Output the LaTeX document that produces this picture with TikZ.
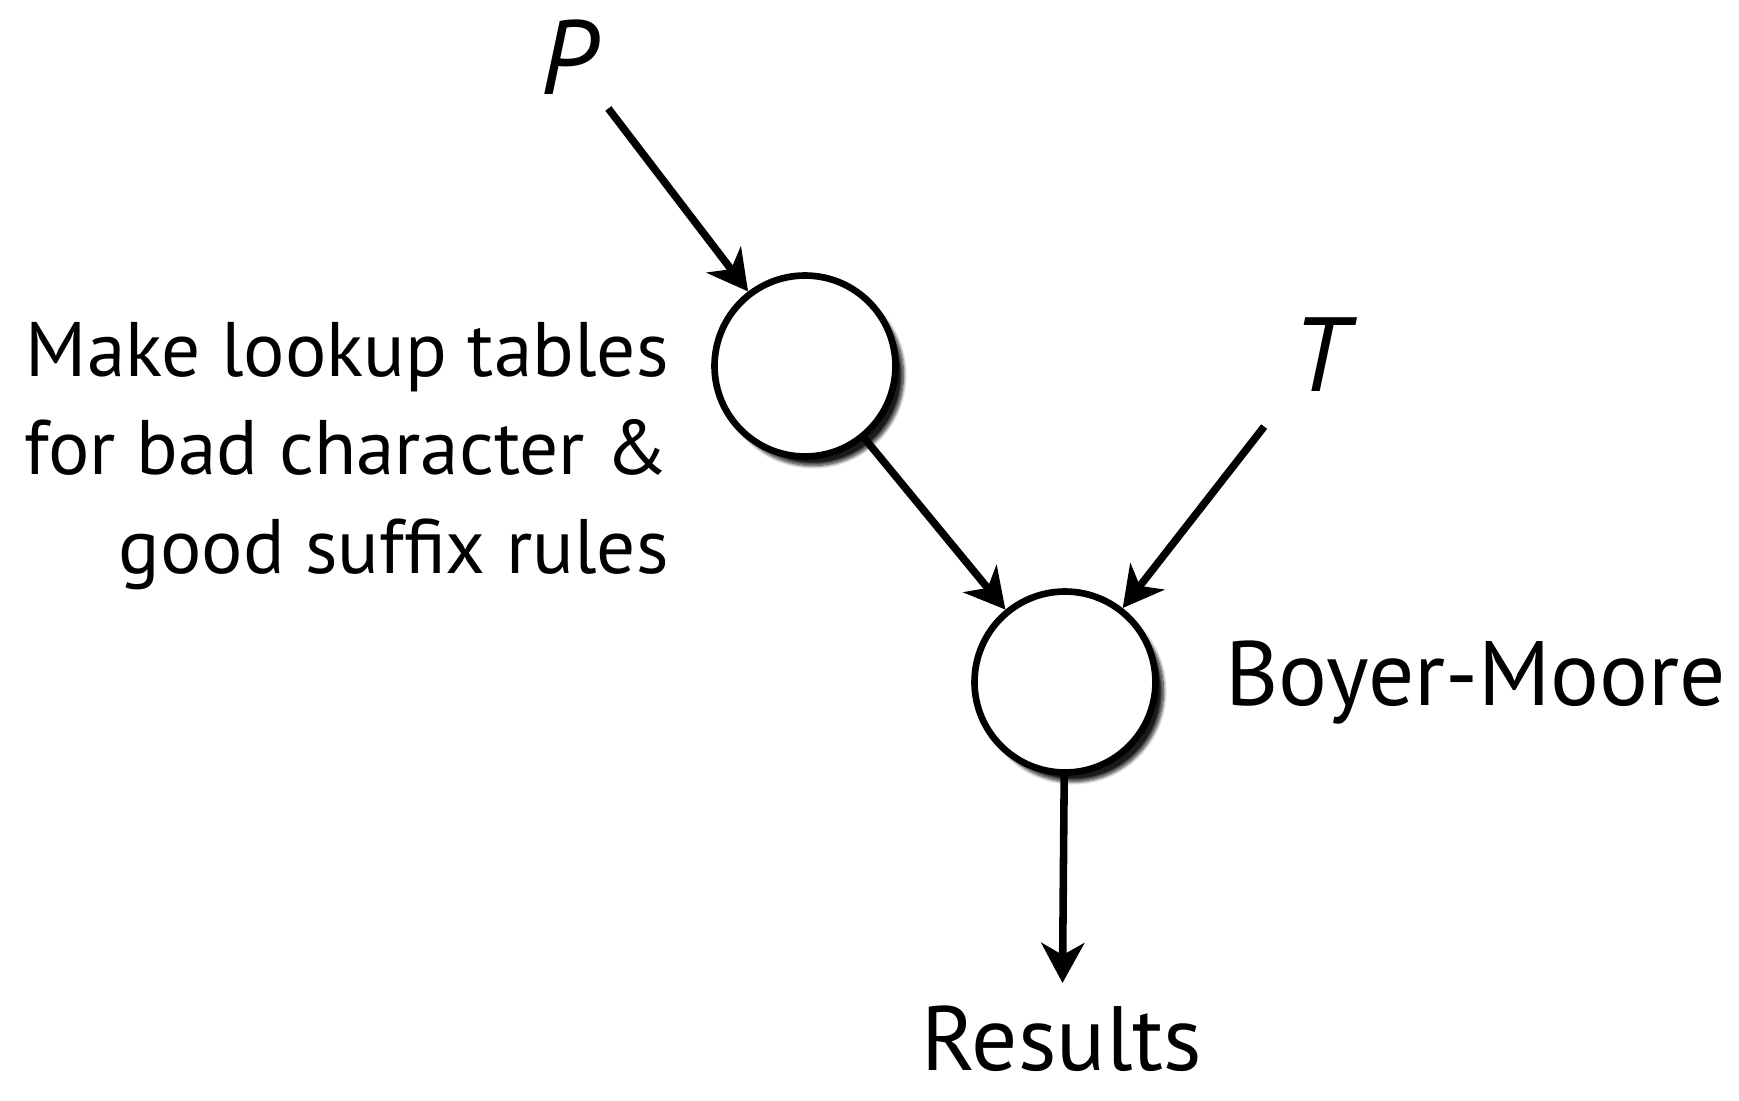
\documentclass[tikz,border=0pt]{standalone}
\usepackage{fontspec}
\setmainfont{PT Sans}
\usetikzlibrary{arrows.meta,shadows.blur}

\tikzset{
  paso/.style={circle, draw, line width=3.8pt, fill=white, minimum size=3.62cm,
    blur shadow={shadow xshift=0.16cm, shadow yshift=-0.18cm, shadow blur steps=12, shadow opacity=90}},
  flecha/.style={line width=4.3pt, -{Stealth[length=0.8cm,width=0.86cm,inset=0.24cm]}},
  letra/.style={inner sep=0pt, font=\fontsize{60}{60}\selectfont\itshape},
}

\begin{document}
\begin{tikzpicture}[x=0.02cm, y=-0.02cm]
\useasboundingbox (0,0) rectangle (1739,1100);
% Entradas
\node[letra] (pat) at (569,57) {P};
\node[letra] (txt) at (1320,355) {T};
% Pasos
\node[paso] (prep) at (805,366) {};
\node[paso] (bm) at (1065,682) {};
\node[inner sep=0pt, anchor=base] (res) at (1062,1070) {\fontsize{52}{52}\selectfont Results};
% Etiquetas
\node[inner sep=0pt, anchor=base east, align=right, font=\fontsize{44}{56}\selectfont] (lbl) at (669,573)
  {Make lookup tables\\for bad character \&\\good suffix rules};
\node[inner sep=0pt, anchor=base west, font=\fontsize{52}{52}\selectfont] (lblbm) at (1225,705) {Boyer-Moore};
% Flechas
\draw[flecha, shorten <=0.36cm] (pat) -- (prep);
\draw[flecha, shorten <=0.9cm] (txt) -- (bm);
\draw[flecha] (prep) -- (bm);
\draw[flecha, shorten >=0.44cm] (bm) -- (res);
\end{tikzpicture}
\end{document}
